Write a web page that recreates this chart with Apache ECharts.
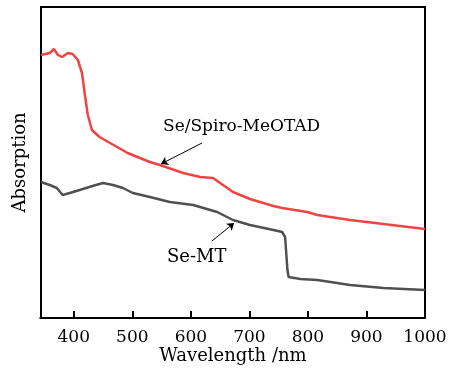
<!DOCTYPE html>
<html><head><meta charset="utf-8">
<script src="https://cdn.jsdelivr.net/npm/echarts@6/dist/echarts.min.js"></script>
<style>html,body{margin:0;padding:0;background:#fff}#c{width:449px;height:371px}</style>
</head><body><div id="c"></div>
<script>
const xTicks = [400, 500, 600, 700, 800, 900, 1000];
const spiroWl = [344,359,366,373,380,390,398,407,414,419,424,431,444,462,492,513,530,547,587,616,638,650,672,701,741,756,799,816,872,929,1000];
const spiroAbs = [2.63,2.65,2.69,2.63,2.61,2.65,2.64,2.58,2.45,2.23,2.03,1.88,1.81,1.75,1.65,1.60,1.56,1.53,1.45,1.41,1.40,1.35,1.26,1.19,1.12,1.10,1.06,1.03,0.98,0.94,0.89];
const mtWl = [344,359,371,381,393,410,432,450,467,484,501,530,564,604,645,672,701,741,756,761,765,767,787,816,872,929,1000];
const mtAbs = [1.36,1.33,1.30,1.23,1.25,1.28,1.32,1.35,1.33,1.30,1.25,1.21,1.16,1.13,1.06,0.98,0.93,0.88,0.86,0.81,0.48,0.41,0.39,0.38,0.33,0.30,0.28];
const xMin = 344, xMax = 1000, tickStep = 100;

const gLeft = 41, gRight = 24, gTop = 7, gBottom = 53, W = 449;
const pxPerNm = (W - gLeft - gRight) / (xMax - xMin);
const tickMin = Math.floor(xMin / tickStep) * tickStep;   // 300, a multiple of the step
const dataGridLeft = gLeft - (xMin - tickMin) * pxPerNm;   // data grid extended so 344 nm lands on the frame

const font = 'DejaVu Serif';
const chart = echarts.init(document.getElementById('c'), null, {renderer:'canvas'});
chart.setOption({
  animation:false,
  grid:[
    {left:gLeft,right:gRight,top:gTop,bottom:gBottom,show:true,borderColor:'#000',borderWidth:2,outerBoundsMode:'none',containLabel:false},
    {left:dataGridLeft,right:gRight,top:gTop,bottom:gBottom,show:false,outerBoundsMode:'none',containLabel:false}
  ],
  xAxis:[{type:'value',gridIndex:0,min:xMin,max:xMax,
    name:'Wavelength /nm',nameLocation:'middle',nameGap:29,
    nameTextStyle:{fontFamily:font,fontSize:18,color:'#000'},
    axisLine:{show:true,onZero:false,lineStyle:{color:'#000',width:2}},
    axisTick:{show:false},axisLabel:{show:false},splitLine:{show:false}},
   {type:'value',gridIndex:1,min:tickMin,max:xMax,interval:tickStep,position:'bottom',
    axisLine:{show:true,onZero:false,lineStyle:{color:'#000',width:2}},
    axisTick:{show:true,inside:true,length:7,lineStyle:{color:'#000',width:2}},
    axisLabel:{show:true,fontFamily:font,fontSize:17,color:'#000',margin:11,
      formatter:v=>(xTicks.indexOf(v)>=0?String(v):'')},
    splitLine:{show:false}}],
  yAxis:[{type:'value',gridIndex:0,min:0,max:3.11,
    name:'Absorption',nameLocation:'middle',nameGap:12,
    nameTextStyle:{fontFamily:font,fontSize:18,color:'#000'},
    axisLine:{show:true,onZero:false,lineStyle:{color:'#000',width:2}},
    axisTick:{show:false},axisLabel:{show:false},splitLine:{show:false}},
   {type:'value',gridIndex:1,min:0,max:3.11,
    axisLine:{show:false},axisTick:{show:false},axisLabel:{show:false},splitLine:{show:false}}],
  series:[
    {type:'line',xAxisIndex:1,yAxisIndex:1,data:spiroWl.map((x,i)=>[x,spiroAbs[i]]),showSymbol:false,
     lineStyle:{color:'#f04444',width:2.5},
     markLine:{silent:true,symbol:['none','arrow'],symbolSize:7,
       lineStyle:{color:'#000',width:1,type:'solid'},label:{show:false},
       data:[[{coord:[619,1.75]},{coord:[549,1.54]}]]}},
    {type:'line',xAxisIndex:1,yAxisIndex:1,data:mtWl.map((x,i)=>[x,mtAbs[i]]),showSymbol:false,
     lineStyle:{color:'#505050',width:2.5},
     markLine:{silent:true,symbol:['none','arrow'],symbolSize:7,
       lineStyle:{color:'#000',width:1,type:'solid'},label:{show:false},
       data:[[{coord:[636,0.77]},{coord:[674,0.95]}]]}}
  ],
  graphic:[
    {type:'rect',z:100,shape:{x:0,y:300,width:gLeft-1.5,height:24},style:{fill:'#fff'}},
    {type:'text',left:163,top:118,style:{text:'Se/Spiro-MeOTAD',font:'17px "DejaVu Serif"',fill:'#000'}},
    {type:'text',left:167,top:248,style:{text:'Se-MT',font:'18px "DejaVu Serif"',fill:'#000'}}
  ]
});
</script></body></html>
